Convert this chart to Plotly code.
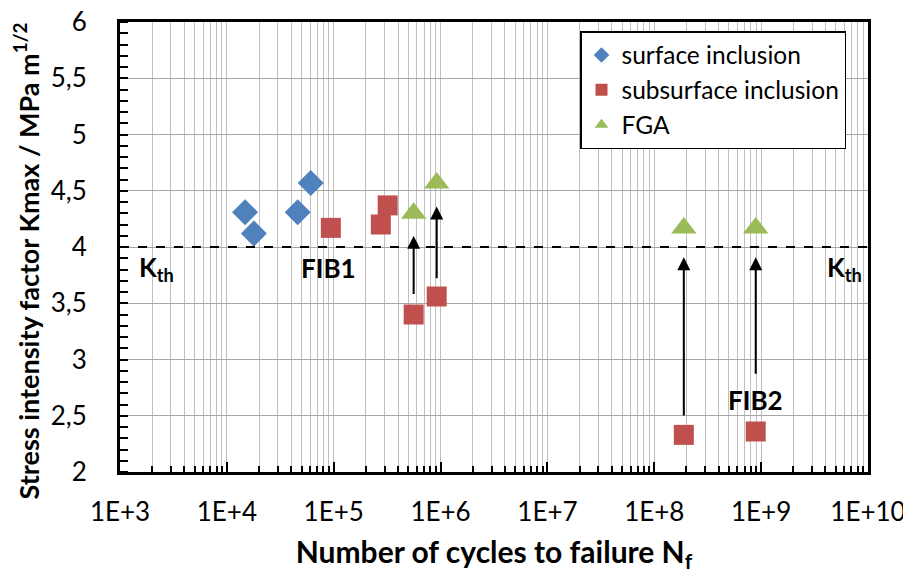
import math
import plotly.graph_objects as go

# ---- data ----
surface_N = [1.48e4, 1.79e4, 4.6e4, 6.1e4]
surface_K = [4.31, 4.12, 4.31, 4.57]

subsurface_N = [9.4e4, 2.76e5, 3.2e5, 5.6e5, 9.2e5, 1.89e8, 8.9e8]
subsurface_K = [4.17, 4.20, 4.37, 3.40, 3.56, 2.33, 2.36]

fga_N = [5.6e5, 9.2e5, 1.89e8, 8.9e8]
fga_K = [4.30, 4.57, 4.17, 4.17]

K_th = 4.0

# arrows: (N, K tail, K head)
arrow_N = [5.6e5, 9.2e5, 1.89e8, 8.9e8]
arrow_tail = [3.57, 3.71, 2.49, 2.86]
arrow_head = [4.10, 4.36, 3.91, 3.91]

x_tickvals = [1e3, 1e4, 1e5, 1e6, 1e7, 1e8, 1e9, 1e10]
x_ticktext = ["1E+3", "1E+4", "1E+5", "1E+6", "1E+7", "1E+8", "1E+9", "1E+10"]
y_tickvals = [2, 2.5, 3, 3.5, 4, 4.5, 5, 5.5, 6]
y_ticktext = ["2", "2,5", "3", "3,5", "4", "4,5", "5", "5,5", "6"]

FONT = "Lato, 'Open Sans', sans-serif"

minor_x = [m * 10 ** d for d in range(3, 10) for m in range(2, 10)]
minor_y = [round(2 + 0.1 * i, 2) for i in range(41)]

fig = go.Figure()
fig.add_trace(go.Scatter(x=surface_N, y=surface_K, mode="markers", name="surface inclusion",
                         marker=dict(symbol="diamond", size=20, color="#4f81bd")))
fig.add_trace(go.Scatter(x=subsurface_N, y=subsurface_K, mode="markers", name="subsurface inclusion",
                         marker=dict(symbol="square", size=20, color="#c0504d")))
fig.add_trace(go.Scatter(x=fga_N, y=fga_K, mode="markers", name="FGA",
                         marker=dict(symbol="triangle-up", size=22, color="#9bbb59")))

fig.add_shape(type="line", xref="paper", x0=0, x1=1, yref="y", y0=K_th, y1=K_th,
              line=dict(color="black", width=2, dash="dash"))

for n, t, h in zip(arrow_N, arrow_tail, arrow_head):
    fig.add_annotation(x=math.log10(n), y=h, ax=math.log10(n), ay=t, xref="x", yref="y",
                       axref="x", ayref="y", showarrow=True, arrowhead=2, arrowsize=1.3,
                       arrowwidth=2, arrowcolor="black", text="")

labels = [
    (1e3 * 10 ** 0.346, 3.81, "K<sub>th</sub>"),
    (1e4 * 10 ** 0.955, 3.81, "FIB1"),
    (1e9 * 10 ** 0.78, 3.81, "K<sub>th</sub>"),
    (8.9e8, 2.64, "FIB2"),
]
for x, y, t in labels:
    fig.add_annotation(x=math.log10(x), y=y, xref="x", yref="y", text="<b>" + t + "</b>",
                       showarrow=False, font=dict(family=FONT, size=26, color="black"))

# y-axis title (rotated text, sits slightly below centre as in the original)
fig.add_annotation(x=-0.1257, y=0.47, xref="paper", yref="paper", textangle=-90,
                   xanchor="center", yanchor="middle", showarrow=False,
                   text="<b>Stress intensity factor Kmax / MPa m<sup>1/2</sup></b>",
                   font=dict(family=FONT, size=27, color="black"))

fig.update_layout(
    width=903, height=570,
    margin=dict(l=112, r=43, t=14, b=106),
    plot_bgcolor="white", paper_bgcolor="white",
    font=dict(family=FONT, size=26, color="black"),
    legend=dict(x=0.615, y=0.98, xanchor="left", yanchor="top",
                bordercolor="black", borderwidth=1.5, bgcolor="white",
                font=dict(family=FONT, size=24.5), itemsizing="constant",
                tracegroupgap=4, itemwidth=30),
    xaxis=dict(type="log", range=[3, 10], tickvals=x_tickvals, ticktext=x_ticktext,
               ticks="inside", ticklen=10, tickwidth=2, tickcolor="black",
               showgrid=True, gridcolor="#bfbfbf", gridwidth=1,
               showline=True, linecolor="black", linewidth=3, mirror=True,
               minor=dict(tickvals=minor_x, ticks="inside", ticklen=6, tickwidth=2,
                          tickcolor="black", showgrid=True, gridcolor="#bfbfbf", gridwidth=1),
               zeroline=False, ticklabelstandoff=15, automargin=False,
               ticklabeloverflow="allow",
               title=dict(text="<b>Number of cycles to failure N<sub>f</sub></b>",
                          font=dict(family=FONT, size=30), standoff=16)),
    yaxis=dict(range=[2, 6], tickvals=y_tickvals, ticktext=y_ticktext,
               ticks="outside", ticklen=25, tickwidth=1, tickcolor="rgba(0,0,0,0)",
               showgrid=True, gridcolor="#a6a6a6", gridwidth=1,
               showline=True, linecolor="black", linewidth=3, mirror=True,
               minor=dict(tickvals=minor_y, ticks="inside", ticklen=8, tickwidth=2,
                          tickcolor="black", showgrid=False),
               zeroline=False, automargin=False,
               ticklabeloverflow="allow"),
)

fig.write_html("out.html")
